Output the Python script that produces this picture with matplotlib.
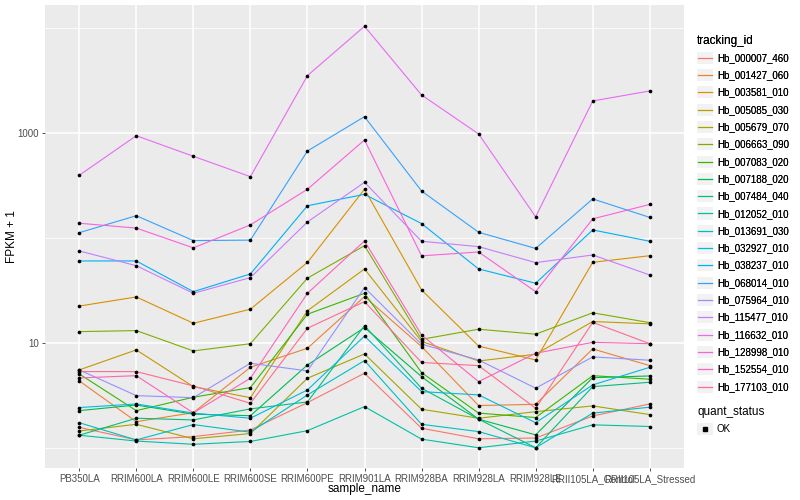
import matplotlib
matplotlib.use("Agg")
import matplotlib.pyplot as plt
from matplotlib.lines import Line2D
from matplotlib.patches import Rectangle

plt.rcParams['font.family'] = ['Liberation Sans', 'DejaVu Sans']

# samples on the x axis
samples = ["PB350LA", "RRIM600LA", "RRIM600LE", "RRIM600SE", "RRIM600PE", "RRIM901LA",
           "RRIM928BA", "RRIM928LA", "RRIM928LE", "RRII105LA_Control", "RRII105LA_Stressed"]

genes = ["Hb_000007_460", "Hb_001427_060", "Hb_003581_010", "Hb_005085_030", "Hb_005679_070",
         "Hb_006663_090", "Hb_007083_020", "Hb_007188_020", "Hb_007484_040", "Hb_012052_010",
         "Hb_013691_030", "Hb_032927_010", "Hb_038237_010", "Hb_068014_010", "Hb_075964_010",
         "Hb_115477_010", "Hb_116632_010", "Hb_128998_010", "Hb_152554_010", "Hb_177103_010"]

# FPKM + 1
hb_000007_460 = [1.58, 1.20, 1.29, 1.49, 2.72, 5.18, 1.55, 1.23, 1.25, 2.03, 2.64]
hb_001427_060 = [4.38, 1.79, 2.18, 5.90, 8.96, 27.8, 9.29, 2.55, 2.62, 8.83, 6.12]
hb_003581_010 = [22.6, 27.6, 15.5, 21.1, 58.9, 293, 32.2, 9.4, 6.93, 59.0, 68.2]
hb_005085_030 = [5.57, 8.64, 3.86, 3.03, 20.4, 51.0, 10.4, 6.78, 7.86, 16.1, 15.3]
hb_005679_070 = [1.46, 1.69, 1.23, 1.38, 4.64, 7.91, 2.35, 1.93, 2.23, 2.53, 2.09]
hb_006663_090 = [12.9, 13.2, 8.45, 9.9, 41.7, 85.0, 10.9, 13.6, 12.2, 19.5, 15.7]
hb_007083_020 = [5.10, 2.28, 3.06, 3.78, 18.9, 29.9, 5.25, 2.16, 1.96, 4.91, 4.54]
hb_007188_020 = [2.28, 2.58, 2.11, 2.04, 6.21, 14.1, 4.81, 1.89, 1.34, 4.70, 4.88]
hb_007484_040 = [1.33, 1.93, 1.86, 2.37, 2.76, 14.7, 3.73, 1.89, 1.01, 3.86, 4.25]
hb_012052_010 = [1.33, 1.17, 1.09, 1.16, 1.47, 2.49, 1.22, 1.01, 1.17, 1.67, 1.61]
hb_013691_030 = [1.75, 1.20, 1.68, 1.42, 3.22, 6.83, 1.69, 1.44, 1.01, 2.16, 2.46]
hb_032927_010 = [2.44, 2.64, 2.16, 1.93, 3.59, 11.7, 3.46, 3.22, 1.75, 4.01, 5.90]
hb_038237_010 = [60.8, 60.8, 31.0, 45.7, 204, 262, 138, 51.0, 37.3, 120, 93.6]
hb_068014_010 = [113, 164, 95, 96, 678, 1440, 282, 114, 80, 237, 158]
hb_075964_010 = [5.57, 3.17, 3.03, 6.45, 5.45, 33.9, 9.78, 6.93, 3.73, 7.41, 6.89]
hb_115477_010 = [75.7, 54.8, 29.9, 42.2, 143, 341, 93.6, 83.2, 58.6, 69.3, 44.7]
hb_116632_010 = [398, 948, 604, 386, 3540, 10450, 2317, 985, 160, 2032, 2530]
hb_128998_010 = [139, 125, 81, 134, 293, 863, 68, 74, 31, 153, 210]
hb_152554_010 = [4.67, 4.91, 2.17, 4.64, 29.9, 94.2, 12.0, 4.31, 8.03, 10.2, 9.9]
hb_177103_010 = [5.37, 5.37, 3.92, 2.68, 13.9, 24.9, 6.56, 6.12, 2.40, 15.8, 9.9]

series = [hb_000007_460, hb_001427_060, hb_003581_010, hb_005085_030, hb_005679_070,
          hb_006663_090, hb_007083_020, hb_007188_020, hb_007484_040, hb_012052_010,
          hb_013691_030, hb_032927_010, hb_038237_010, hb_068014_010, hb_075964_010,
          hb_115477_010, hb_116632_010, hb_128998_010, hb_152554_010, hb_177103_010]

# ggplot default hue palette for 20 levels
colors = ["#F8766D", "#EA8331", "#D89000", "#C09B00", "#A3A500", "#7CAE00", "#39B600",
          "#00BB4E", "#00BF7D", "#00C1A3", "#00BFC4", "#00BAE0", "#00B0F6", "#35A2FF",
          "#9590FF", "#C77CFF", "#E76BF3", "#FA62DB", "#FF62BC", "#FF6C91"]

fig = plt.figure(figsize=(8, 5), dpi=100)
ax = fig.add_axes([45 / 800, 32 / 500, 639 / 800, 463 / 500])
ax.set_facecolor("#EBEBEB")
for s in ax.spines.values():
    s.set_visible(False)

x = list(range(len(samples)))
for vals, col in zip(series, colors):
    ax.plot(x, vals, color=col, lw=0.8, zorder=2)
for vals in series:
    ax.scatter(x, vals, color="black", s=7, zorder=3, linewidths=0)

ax.set_yscale("log")
ax.set_ylim(0.648, 16670)
ax.set_xlim(-0.6, len(samples) - 0.4)
ax.set_yticks([10, 1000])
ax.set_yticklabels(["10", "1000"])
ax.set_yticks([1, 100, 10000], minor=True)
ax.set_yticklabels([], minor=True)
ax.set_xticks(x)
ax.set_xticklabels(samples)
ax.tick_params(which="major", length=2.5, width=0.6, color="#333333", labelcolor="#4D4D4D",
               labelsize=7, pad=2)
ax.tick_params(which="minor", length=0)
ax.grid(which="major", color="white", lw=1.1)
ax.grid(which="minor", color="white", lw=0.55)
ax.set_axisbelow(True)

ax.set_xlabel("sample_name", fontsize=8.5, labelpad=-1)
ax.set_ylabel("FPKM + 1", fontsize=8.5)
ax.yaxis.set_label_coords(-0.043, 0.5)


# ggplot style legend key: grey box with a line or a point in it
class KeyHandler:
    def legend_artist(self, legend, orig_handle, fontsize, handlebox):
        x0, y0 = -handlebox.xdescent, -handlebox.ydescent
        w, h = handlebox.width, handlebox.height
        tr = handlebox.get_transform()
        box = Rectangle((x0, y0 + 0.4), w, h - 0.8, facecolor="#F2F2F2",
                        edgecolor="none", transform=tr)
        handlebox.add_artist(box)
        if orig_handle.get_marker() not in (None, "None", ""):
            mk = Line2D([x0 + w / 2], [y0 + h / 2], ls="none", marker="s", markersize=2.5,
                        color="black", transform=tr)
            handlebox.add_artist(mk)
        else:
            ln = Line2D([x0 + 1, x0 + w - 1], [y0 + h / 2, y0 + h / 2],
                        color=orig_handle.get_color(), lw=0.9, transform=tr)
            handlebox.add_artist(ln)
        return box


legend_opts = dict(loc="upper left", frameon=False, fontsize=7, title_fontsize=8.5,
                   handler_map={Line2D: KeyHandler()},
                   handlelength=1.65, handleheight=1.7, labelspacing=0.43, handletextpad=0.4,
                   borderpad=0, borderaxespad=0)

handles = [Line2D([], [], color=c) for c in colors]
leg1 = fig.legend(handles, genes, title="tracking_id",
                  bbox_to_anchor=(697 / 800, 1 - 35 / 500), **legend_opts)
leg1._legend_box.align = "left"
fig.add_artist(leg1)

ok_handle = Line2D([], [], ls="none", marker="s", color="black")
leg2 = fig.legend([ok_handle], ["OK"], title="quant_status",
                  bbox_to_anchor=(697 / 800, 1 - 406 / 500), **legend_opts)
leg2._legend_box.align = "left"

fig.savefig("out.png", dpi=100)
